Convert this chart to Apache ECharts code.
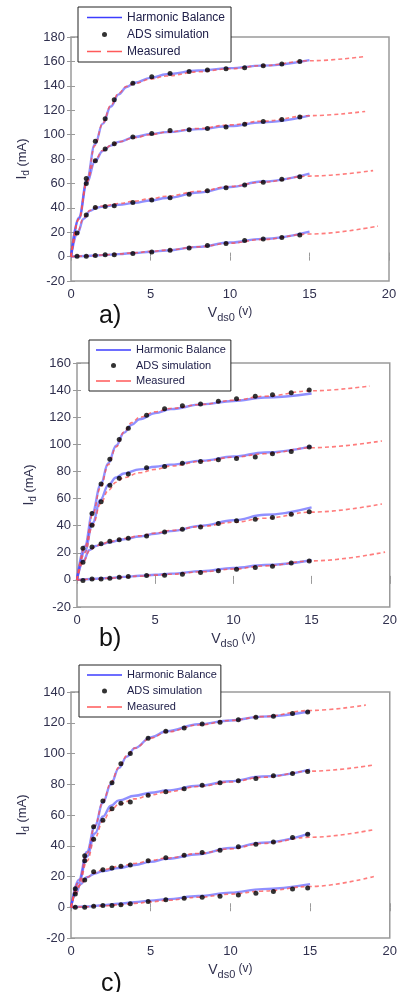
<!DOCTYPE html>
<html>
<head>
<meta charset="utf-8">
<title>Id - Vds0</title>
<script src="https://cdn.jsdelivr.net/npm/echarts@6/dist/echarts.min.js"></script>
<style>
  html, body { margin: 0; padding: 0; background: #fff; }
  #chart { width: 400px; height: 992px; }
</style>
</head>
<body>
<div id="chart"></div>
<script>
// ---- data (V in volts, I in mA) ----
// plot a)
const aVds = [0.38, 0.96, 1.53, 2.15, 2.72, 3.89, 5.08, 6.23, 7.43, 8.58, 9.75, 10.92, 12.09, 13.26, 14.39]
const aAds = [
  [null, 64, 94.5, 113, 128.5, 142, 147.4, 150, 151.8, 153, 154, 154.8, 156.4, 157.8, 160],
  [null, 60, 78.6, 88.2, 92.6, 98.1, 100.8, 103.3, 104, 105, 106.3, 108.5, 110.7, 112.3, 114.5],
  [19.4, 34, 40.3, 41, 41.6, 44.4, 46.3, 48.2, 51.2, 54, 56.4, 58.6, 61, 63.3, 65.5],
  [0.3, 0.3, 0.8, 1.6, 1.6, 2.5, 3.8, 5.2, 7.1, 9, 10.7, 13.1, 14.5, 15.6, 17.8]
]
const aHB = [
  [[0, 0], [0.5, 32], [1, 63], [1.5, 92], [2, 109], [2.5, 123], [3, 133], [3.5, 139], [4, 142.5], [5, 146.5], [6, 149.5], [8, 152.5], [10, 154.5], [12, 156.5], [15, 161]],
  [[0, 0], [0.5, 31], [1, 60.5], [1.5, 78], [2, 86.5], [2.5, 91], [3, 94], [4, 98], [5, 100.5], [6, 102], [8, 104.5], [10, 107], [12, 110], [15, 115.5]],
  [[0, 0], [0.4, 19], [0.8, 31], [1.2, 37.5], [1.6, 40], [2, 41], [3, 42.5], [4, 44], [5, 46], [6, 48], [8, 52.5], [10, 57], [12, 61.5], [15, 68]],
  [[0, 0], [1, 0.5], [2, 1.2], [3, 2], [4, 3], [5, 4], [6, 5], [8, 8], [10, 11.5], [12, 14.5], [15, 20.5]]
]
const aMeas = [
  [[0, 0], [0.5, 31], [1, 62], [1.5, 91], [2, 109.5], [2.5, 124], [3, 134], [3.5, 139.5], [4, 142], [5, 145.5], [6, 148], [8, 151.5], [10, 154], [12, 156.5], [15, 160.5], [18.5, 164]],
  [[0, 0], [0.5, 31], [1, 61.5], [1.5, 79], [2, 87], [2.5, 91], [3, 94], [4, 97.5], [5, 100], [6, 102], [8, 105], [10, 108], [12, 111], [15, 115.5], [18.5, 119]],
  [[0, 0], [0.4, 20], [0.8, 32], [1.2, 38], [1.6, 40.5], [2, 41.5], [3, 43.5], [4, 45.5], [5, 47.5], [6, 49.5], [8, 53.5], [10, 57.5], [12, 61], [15, 66], [19, 70.5]],
  [[0, 0], [1, 0.5], [2, 1.3], [3, 2.2], [4, 3.2], [5, 4.2], [6, 5.3], [8, 8], [10, 11], [12, 14], [15, 18.5], [19.3, 25]]
]

// plot b)
const bVds = [0.38, 0.96, 1.54, 2.1, 2.7, 3.28, 4.45, 5.6, 6.74, 7.9, 9.04, 10.2, 11.4, 12.5, 13.7, 14.85]
const bAds = [
  [23.4, 49, 70.8, 89, 103.5, 111.9, 121.5, 126.2, 128.4, 129.7, 131.7, 133.7, 135.4, 136.6, 138.1, 140.1],
  [null, 40.3, 57.7, 69.8, 75, 78.2, 82.7, 83.7, 86.1, 87.4, 88.6, 89.6, 90.6, 93, 94.8, 98],
  [13.1, 24.3, 26.7, 28.5, 29.7, 30.7, 32.4, 35.4, 37.4, 39.1, 41.6, 43.6, 44.8, 46, 48.5, 50.2],
  [-0.5, 0.7, 0.7, 1.2, 2, 2.5, 3.2, 3.5, 4.2, 5.4, 6.7, 7.9, 9.2, 10.1, 12.4, 13.9]
]
const bHB = [
  [[0, 0], [0.5, 25], [1, 50], [1.5, 70], [2, 86], [2.5, 99], [3, 108.5], [3.5, 114.5], [4, 118.5], [5, 123], [6, 126], [8, 129.5], [10, 132], [12, 134.5], [15, 137.5]],
  [[0, 0], [0.5, 21], [1, 42], [1.5, 59], [2, 70], [2.5, 75.5], [3, 78.5], [4, 81.5], [5, 83.5], [6, 85], [8, 88], [10, 91], [12, 94], [15, 98.5]],
  [[0, 0], [0.4, 14], [0.8, 22], [1.2, 25], [1.6, 26.5], [2, 27.5], [3, 30], [4, 32], [5, 34], [6, 36], [8, 40], [10, 44], [12, 48], [15, 53.5]],
  [[0, 0], [1, 0.7], [2, 1.4], [3, 2.2], [4, 3], [5, 3.8], [6, 4.6], [8, 6.5], [10, 8.8], [12, 11], [15, 14.5]]
]
const bMeas = [
  [[0, 0], [0.5, 24], [1, 48], [1.5, 68], [2, 85], [2.5, 98], [3, 109], [3.5, 116], [4, 120], [5, 124], [6, 126.5], [8, 129.5], [10, 132.5], [12, 135.5], [15, 139.5], [18.7, 143]],
  [[0, 0], [0.5, 20], [1, 40], [1.5, 56], [2, 66], [2.5, 72], [3, 75.5], [4, 79], [5, 81.5], [6, 84], [8, 87.5], [10, 90.5], [12, 93], [15, 97.5], [19.5, 102.5]],
  [[0, 0], [0.4, 13], [0.8, 21.5], [1.2, 25], [1.6, 26.5], [2, 28], [3, 30.5], [4, 32.5], [5, 34.5], [6, 36.5], [8, 39.5], [10, 42.5], [12, 45.5], [15, 50], [19.5, 56]],
  [[0, 0], [1, 0.5], [2, 1.2], [3, 2], [4, 2.8], [5, 3.5], [6, 4.2], [8, 6], [10, 8], [12, 10.3], [15, 14], [19.7, 20.5]]
]

// plot c)
const cVds = [0.27, 0.86, 1.42, 2.0, 2.57, 3.13, 3.72, 4.84, 5.95, 7.1, 8.23, 9.35, 10.5, 11.6, 12.7, 13.9, 14.85]
const cAds = [
  [12, 33.5, 52.3, 69.1, 81, 93.3, 100, 110, 114.5, 116.6, 119.2, 120.3, 122, 123.5, 124.2, 126, 127],
  [8.6, 30.2, 44.3, 56.6, 64.1, 67.6, 68.5, 72.8, 75.2, 77.1, 79.3, 81, 82.3, 83.8, 85.5, 87, 88.3],
  [null, 17.7, 23.1, 24.4, 25.5, 26.6, 27.4, 30.2, 32.2, 33.9, 35.6, 37.1, 39.3, 41, 42.5, 45.4, 47.5],
  [0, 0, 0.6, 1.1, 1.1, 1.7, 2.2, 3.7, 4.8, 5.8, 6.5, 7.1, 8, 9.1, 10.2, 11.9, 12.5]
]
const cHB = [
  [[0, 0], [0.5, 18], [1, 36], [1.5, 53], [2, 68], [2.5, 80], [3, 90.5], [3.5, 98], [4, 103.5], [5, 110.5], [6, 114.5], [8, 119], [10, 121.5], [12, 124], [15, 127.5]],
  [[0, 0], [0.5, 16], [1, 33], [1.5, 48], [2, 59], [2.5, 66], [3, 69.5], [4, 72.5], [5, 74.5], [6, 76], [8, 79], [10, 82], [12, 85], [15, 89.5]],
  [[0, 0], [0.3, 9], [0.6, 15], [1, 19.5], [1.5, 22], [2, 23.5], [3, 25.5], [4, 27.5], [5, 29.5], [6, 31.5], [8, 34.5], [10, 38.5], [12, 42], [15, 48]],
  [[0, 0], [1, 0.5], [2, 1.3], [3, 2.3], [4, 3.3], [5, 4.3], [6, 5.3], [8, 7.3], [10, 9.5], [12, 11.8], [15, 15]]
]
const cMeas = [
  [[0, 0], [0.5, 17], [1, 35], [1.5, 53], [2, 68.5], [2.5, 81], [3, 91], [3.5, 98.5], [4, 103.5], [5, 110], [6, 114], [8, 118.5], [10, 121.5], [12, 124], [15, 128], [18.5, 131.5]],
  [[0, 0], [0.5, 14], [1, 30], [1.5, 45], [2, 56], [2.5, 63], [3, 67], [4, 70.5], [5, 73], [6, 75], [8, 78.5], [10, 81.5], [12, 84.5], [15, 88.5], [19, 92.5]],
  [[0, 0], [0.3, 9], [0.6, 15], [1, 19.5], [1.5, 22.5], [2, 24.5], [3, 26.5], [4, 28.5], [5, 30.5], [6, 32], [8, 35], [10, 38], [12, 41.5], [15, 45.5], [19, 50.5]],
  [[0, 0], [1, 0.3], [2, 0.9], [3, 1.6], [4, 2.5], [5, 3.5], [6, 4.5], [8, 6.5], [10, 8.5], [12, 10.5], [15, 13.5], [19, 20]]
]

const yMax = [180, 160, 140]
const panelNames = ['a)', 'b)', 'c)']

// ---- styling ----
const font = 'Liberation Sans, Arial, sans-serif'
const labelColor = '#30304e'
const frameColor = '#9a9a9a'
const hbColor = 'rgba(70,70,255,0.6)'
const measColor = 'rgba(255,80,80,0.75)'

const grids = [
  {left: 71, top: 37, width: 318, height: 244},
  {left: 77, top: 363, width: 320, height: 244},
  {left: 71, top: 692, width: 319, height: 246}
]
const legendPos = [
  {left: 78, top: 7, fontSize: 12, lineHeight: 15, gap: 2, pad: [3, 6, 3, 9]},
  {left: 89, top: 340, fontSize: 11, lineHeight: 14, gap: 1.5, pad: [3, 5, 3, 7]},
  {left: 79, top: 665, fontSize: 11, lineHeight: 14, gap: 2, pad: [3, 4, 3, 8]}
]
const yNameGap = [40, 38, 40]

let xAxes = []
let yAxes = []
let series = []

const tick = {inside: true, length: 4, lineStyle: {color: frameColor, width: 1}}

grids.forEach((g, i) => {
  g.show = true
  g.borderColor = frameColor
  g.borderWidth = 1.5
  g.backgroundColor = '#fff'

  xAxes.push({
    gridIndex: i, type: 'value', min: 0, max: 20, interval: 5,
    axisLine: {show: false}, axisTick: tick, splitLine: {show: false},
    axisLabel: {margin: 7, color: labelColor, fontSize: 13, fontFamily: font},
    name: '{v|V}{s|ds0}{u| (v)}', nameLocation: 'middle', nameGap: 22,
    nameTextStyle: {
      color: labelColor, fontFamily: font,
      rich: {
        v: {fontSize: 14, fontFamily: font, color: labelColor},
        s: {fontSize: 11, fontFamily: font, color: labelColor, padding: [9, 0, 0, 0]},
        u: {fontSize: 12, fontFamily: font, color: labelColor, padding: [0, 0, 2, 0]}
      }
    }
  })
  xAxes.push({
    gridIndex: i, type: 'value', min: 0, max: 20, interval: 5, position: 'top',
    axisLine: {show: false}, axisTick: tick, splitLine: {show: false}, axisLabel: {show: false}
  })
  yAxes.push({
    gridIndex: i, type: 'value', min: -20, max: yMax[i], interval: 20,
    axisLine: {show: false}, axisTick: tick, splitLine: {show: false},
    axisLabel: {margin: 6, color: labelColor, fontSize: 13, fontFamily: font},
    name: '{i|I}{s|d}{u| (mA)}', nameLocation: 'middle', nameGap: yNameGap[i], nameRotate: 90,
    nameTextStyle: {
      color: labelColor, fontFamily: font,
      rich: {
        i: {fontSize: 14, fontFamily: font, color: labelColor},
        s: {fontSize: 10, fontFamily: font, color: labelColor, padding: [8, 0, 0, 0]},
        u: {fontSize: 13, fontFamily: font, color: labelColor}
      }
    }
  })
  yAxes.push({
    gridIndex: i, type: 'value', min: -20, max: yMax[i], interval: 20, position: 'right',
    axisLine: {show: false}, axisTick: tick, splitLine: {show: false}, axisLabel: {show: false}
  })
})

const buildSeries = (i, vds, ads, hb, meas) => {
  hb.forEach(c => {
    series.push({
      type: 'line', name: 'Harmonic Balance', xAxisIndex: i * 2, yAxisIndex: i * 2,
      data: c, symbol: 'none', smooth: 0.4, smoothMonotone: 'x', z: 2,
      itemStyle: {color: hbColor},
      lineStyle: {color: hbColor, width: 2.4}
    })
  })
  meas.forEach(c => {
    series.push({
      type: 'line', name: 'Measured', xAxisIndex: i * 2, yAxisIndex: i * 2,
      data: c, symbol: 'none', smooth: 0.4, smoothMonotone: 'x', z: 3,
      itemStyle: {color: measColor},
      lineStyle: {color: measColor, width: 1.6, type: [4, 3]}
    })
  })
  ads.forEach(c => {
    series.push({
      type: 'scatter', name: 'ADS simulation', xAxisIndex: i * 2, yAxisIndex: i * 2,
      data: vds.map((v, k) => [v, c[k]]).filter(p => p[1] !== null),
      symbol: 'circle', symbolSize: 5, z: 4,
      itemStyle: {color: '#000'}
    })
  })
}
buildSeries(0, aVds, aAds, aHB, aMeas)
buildSeries(1, bVds, bAds, bHB, bMeas)
buildSeries(2, cVds, cAds, cHB, cMeas)

// legend icons: a solid stroke and a two-dash stroke, 35 px wide
const solidIcon = 'path://M0,0H35V1.3H0Z'
const dashIcon = 'path://M0,0H14V1.3H0Z M20,0H35V1.3H20Z'

const legends = legendPos.map(l => ({
  orient: 'vertical', left: l.left, top: l.top,
  itemWidth: 35, itemHeight: 5, itemGap: l.gap,
  padding: l.pad,
  backgroundColor: '#fff', borderColor: '#222', borderWidth: 1, borderRadius: 0,
  textStyle: {fontSize: l.fontSize, lineHeight: l.lineHeight, color: '#20204a', fontFamily: font},
  data: [
    {name: 'Harmonic Balance', icon: solidIcon, itemStyle: {color: '#3c3cff', borderWidth: 0}},
    {name: 'ADS simulation', icon: 'circle', itemStyle: {color: '#000'}},
    {name: 'Measured', icon: dashIcon, itemStyle: {color: '#ff5a5a', borderWidth: 0}}
  ]
}))

const titles = [
  {text: panelNames[0], left: 99, top: 304},
  {text: panelNames[1], left: 99, top: 627},
  {text: panelNames[2], left: 101, top: 972}
].map(t => Object.assign(t, {
  padding: 0,
  textStyle: {fontSize: 25, fontWeight: 'normal', color: '#111', fontFamily: font}
}))

let myChart = echarts.init(document.getElementById('chart'))
myChart.setOption({
  animation: false,
  backgroundColor: '#fff',
  title: titles,
  legend: legends,
  grid: grids,
  xAxis: xAxes,
  yAxis: yAxes,
  series: series
})
</script>
</body>
</html>
